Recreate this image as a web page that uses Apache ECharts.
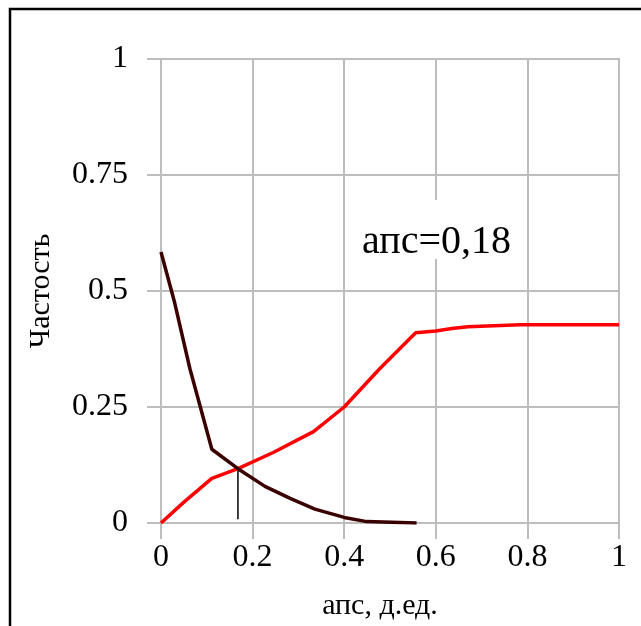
<!DOCTYPE html>
<html>
<head>
<meta charset="utf-8">
<script src="https://cdn.jsdelivr.net/npm/echarts@6/dist/echarts.min.js"></script>
<style>html,body{margin:0;padding:0;background:#fff;}#c{width:641px;height:626px;}</style>
</head>
<body>
<div id="c"></div>
<script>
// Red curve (rising)
const redX = [0, 0.05, 0.111, 0.168, 0.245, 0.333, 0.4, 0.478, 0.556, 0.6, 0.635, 0.67, 0.784, 1.0];
const redY = [0, 0.045, 0.096, 0.117, 0.152, 0.197, 0.25, 0.333, 0.41, 0.414, 0.419, 0.423, 0.427, 0.427];
// Dark curve (falling)
const darkX = [0, 0.03, 0.063, 0.111, 0.168, 0.227, 0.282, 0.336, 0.4, 0.449, 0.558];
const darkY = [0.584, 0.474, 0.333, 0.159, 0.117, 0.079, 0.053, 0.03, 0.012, 0.003, 0];
// Vertical marker at the intersection
const markX = [0.168, 0.168];
const markY = [0.008, 0.113];
const xTicks = [0, 0.2, 0.4, 0.6, 0.8, 1];
const yTicks = [0, 0.25, 0.5, 0.75, 1];
const annotation = 'апс=0,18';
const xTitle = 'апс, д.ед.';
const yTitle = 'Частость';

const zip = (xs, ys) => xs.map((x, i) => [x, ys[i]]);
const font = 'Liberation Serif';
const grayLine = { color: '#bdbdbd', width: 2 };

const chart = echarts.init(document.getElementById('c'));
chart.setOption({
  animation: false,
  backgroundColor: '#fff',
  grid: { left: 161, top: 59, width: 458, height: 471, show: true, borderColor: '#bdbdbd', borderWidth: 2 },
  xAxis: {
    type: 'value', min: 0, max: 1, interval: 0.2,
    axisLine: { show: true, lineStyle: grayLine },
    axisTick: { show: true, length: 16, lineStyle: grayLine },
    splitLine: { show: true, lineStyle: grayLine },
    axisLabel: { margin: 19, fontFamily: font, fontSize: 32, color: '#000',
      formatter: v => String(xTicks.find(t => Math.abs(t - v) < 1e-9) ?? v) },
    name: xTitle, nameLocation: 'middle', nameGap: 68,
    nameTextStyle: { fontFamily: font, fontSize: 30, color: '#000', padding: [0, 20, 0, 0] }
  },
  yAxis: {
    type: 'value', min: 0, max: 1, interval: 0.25,
    axisLine: { show: true, lineStyle: grayLine },
    axisTick: { show: true, length: 14, lineStyle: grayLine },
    splitLine: { show: true, lineStyle: grayLine },
    axisLabel: { margin: 33, fontFamily: font, fontSize: 32, color: '#000',
      formatter: v => String(yTicks.find(t => Math.abs(t - v) < 1e-9) ?? v) },
    name: yTitle, nameLocation: 'middle', nameGap: 105, nameRotate: 90,
    nameTextStyle: { fontFamily: font, fontSize: 30, color: '#000' }
  },
  series: [
    { type: 'line', data: zip(redX, redY), symbol: 'none', lineStyle: { color: '#ff0000', width: 3.5 }, z: 3 },
    { type: 'line', data: zip(darkX, darkY), symbol: 'none', lineStyle: { color: '#3a0000', width: 3.5 }, z: 4 },
    { type: 'line', data: zip(markX, markY), symbol: 'none', lineStyle: { color: '#000', width: 1.5 }, z: 2 }
  ],
  graphic: [
    { type: 'rect', shape: { x: 10, y: 9, width: 700, height: 700 }, style: { fill: 'none', stroke: '#000', lineWidth: 2.5 }, silent: true },
    { type: 'rect', z: 10, shape: { x: 354, y: 200, width: 168, height: 59 }, style: { fill: '#fff' }, silent: true },
    { type: 'text', z: 11, left: 362, top: 222, style: { text: annotation, fontFamily: font, fontSize: 40, fill: '#000' } }
  ]
});
</script>
</body>
</html>
